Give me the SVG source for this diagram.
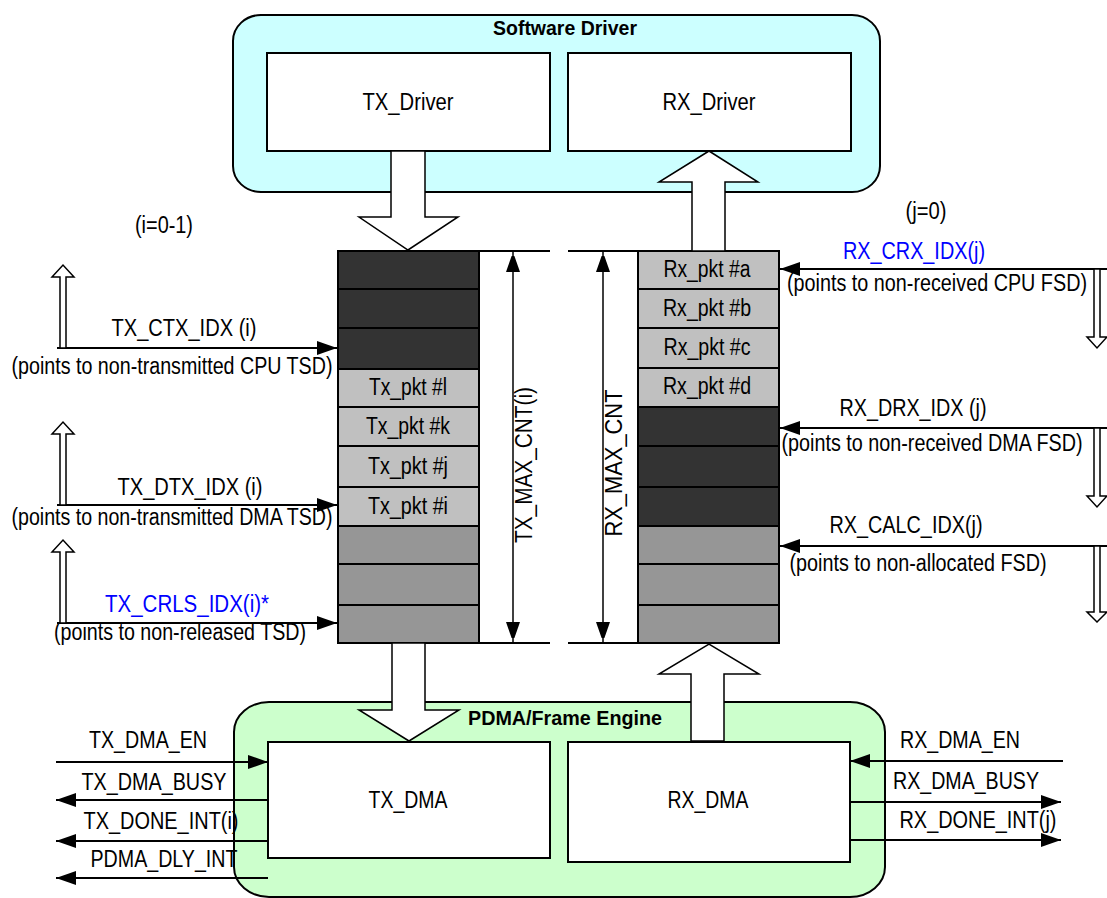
<svg xmlns="http://www.w3.org/2000/svg" width="1107" height="898" viewBox="0 0 1107 898">
<style>
text{font-family:"Liberation Sans",Arial,sans-serif;font-size:23px;fill:#000;text-anchor:middle}
.b{font-weight:bold;font-size:20px}
.blue{fill:#0000ff}
.box{fill:#fff;stroke:#000;stroke-width:2}
.dk{fill:#333333;stroke:#000;stroke-width:2}
.lt{fill:#c0c0c0;stroke:#000;stroke-width:2}
.md{fill:#969696;stroke:#000;stroke-width:2}
.fat{fill:#fff;stroke:#000;stroke-width:1.5}
.ln{stroke:#000;stroke-width:2;fill:none}
.ar{stroke:#000;stroke-width:2;fill:none;marker-end:url(#ah)}
.dim{stroke:#000;stroke-width:1.5;fill:none;marker-start:url(#dh);marker-end:url(#dh)}
</style>
<defs>
<marker id="ah" markerUnits="userSpaceOnUse" markerWidth="22" markerHeight="14" refX="20" refY="7" orient="auto"><path d="M0,0 L20,7 L0,14 z" fill="#000"/></marker>
<marker id="dh" markerUnits="userSpaceOnUse" markerWidth="16" markerHeight="22" refX="20" refY="7" orient="auto-start-reverse"><path d="M0,0 L20,7 L0,14 z" fill="#000"/></marker>
</defs>

<g id="software-driver">
<rect x="233" y="15" width="647" height="177" rx="28" ry="26" fill="#ccffff" stroke="#000" stroke-width="2"/>
<text class="b" x="565" y="35" textLength="144" lengthAdjust="spacingAndGlyphs">Software Driver</text>
</g>
<g id="tx-driver">
<rect class="box" x="267" y="53" width="283" height="98"/>
<text x="408" y="110" textLength="91" lengthAdjust="spacingAndGlyphs">TX_Driver</text>
</g>
<g id="rx-driver">
<rect class="box" x="568" y="53" width="283" height="98"/>
<text x="709" y="110" textLength="93" lengthAdjust="spacingAndGlyphs">RX_Driver</text>
</g>

<g id="pdma">
<rect x="234" y="702" width="651" height="195" rx="35" ry="30" fill="#ccffcc" stroke="#000" stroke-width="2"/>
<text class="b" x="565" y="725" textLength="194" lengthAdjust="spacingAndGlyphs">PDMA/Frame Engine</text>
</g>
<g id="tx-dma">
<rect class="box" x="268" y="742" width="282" height="116"/>
<text x="408" y="808" textLength="79" lengthAdjust="spacingAndGlyphs">TX_DMA</text>
</g>
<g id="rx-dma">
<rect class="box" x="568" y="742" width="282" height="120"/>
<text x="708" y="808" textLength="81" lengthAdjust="spacingAndGlyphs">RX_DMA</text>
</g>

<g id="tx-ring">
<rect class="dk" x="338" y="251" width="141" height="38"/>
<rect class="dk" x="338" y="289" width="141" height="39"/>
<rect class="dk" x="338" y="328" width="141" height="41"/>
<rect class="lt" x="338" y="369" width="141" height="38"/>
<rect class="lt" x="338" y="407" width="141" height="39"/>
<rect class="lt" x="338" y="446" width="141" height="41"/>
<rect class="lt" x="338" y="487" width="141" height="39"/>
<rect class="md" x="338" y="526" width="141" height="38"/>
<rect class="md" x="338" y="564" width="141" height="41"/>
<rect class="md" x="338" y="605" width="141" height="38"/>
<text x="408" y="395" textLength="78" lengthAdjust="spacingAndGlyphs">Tx_pkt #l</text>
<text x="408" y="434" textLength="84" lengthAdjust="spacingAndGlyphs">Tx_pkt #k</text>
<text x="408" y="474" textLength="80" lengthAdjust="spacingAndGlyphs">Tx_pkt #j</text>
<text x="408" y="514" textLength="80" lengthAdjust="spacingAndGlyphs">Tx_pkt #i</text>
</g>

<g id="rx-ring">
<rect class="lt" x="638" y="251" width="141" height="38"/>
<rect class="lt" x="638" y="289" width="141" height="39"/>
<rect class="lt" x="638" y="328" width="141" height="40"/>
<rect class="lt" x="638" y="368" width="141" height="39"/>
<rect class="dk" x="638" y="407" width="141" height="39"/>
<rect class="dk" x="638" y="446" width="141" height="41"/>
<rect class="dk" x="638" y="487" width="141" height="39"/>
<rect class="md" x="638" y="526" width="141" height="38"/>
<rect class="md" x="638" y="564" width="141" height="41"/>
<rect class="md" x="638" y="605" width="141" height="38"/>
<text x="707" y="277" textLength="87" lengthAdjust="spacingAndGlyphs">Rx_pkt #a</text>
<text x="707" y="316" textLength="88" lengthAdjust="spacingAndGlyphs">Rx_pkt #b</text>
<text x="707" y="355" textLength="87" lengthAdjust="spacingAndGlyphs">Rx_pkt #c</text>
<text x="707" y="394" textLength="88" lengthAdjust="spacingAndGlyphs">Rx_pkt #d</text>
</g>

<g id="labels">
<text x="164" y="233" textLength="58" lengthAdjust="spacingAndGlyphs">(i=0-1)</text>
<text x="926" y="219" textLength="41" lengthAdjust="spacingAndGlyphs">(j=0)</text>
<text x="532" y="465" transform="rotate(-90 532 465)" textLength="156" lengthAdjust="spacingAndGlyphs">TX_MAX_CNT(i)</text>
<text x="622" y="463" transform="rotate(-90 622 463)" textLength="147" lengthAdjust="spacingAndGlyphs">RX_MAX_CNT</text>
<text x="184" y="336" textLength="145" lengthAdjust="spacingAndGlyphs">TX_CTX_IDX (i)</text>
<text x="172" y="374" textLength="321" lengthAdjust="spacingAndGlyphs">(points to non-transmitted CPU TSD)</text>
<text x="190" y="495" textLength="145" lengthAdjust="spacingAndGlyphs">TX_DTX_IDX (i)</text>
<text x="172" y="525" textLength="321" lengthAdjust="spacingAndGlyphs">(points to non-transmitted DMA TSD)</text>
<text class="blue" x="187" y="612" textLength="164" lengthAdjust="spacingAndGlyphs">TX_CRLS_IDX(i)*</text>
<text x="180" y="640" textLength="252" lengthAdjust="spacingAndGlyphs">(points to non-released TSD)</text>
<text class="blue" x="914" y="259" textLength="142" lengthAdjust="spacingAndGlyphs">RX_CRX_IDX(j)</text>
<text x="937" y="291" textLength="300" lengthAdjust="spacingAndGlyphs">(points to non-received CPU FSD)</text>
<text x="913" y="416" textLength="147" lengthAdjust="spacingAndGlyphs">RX_DRX_IDX (j)</text>
<text x="932" y="451" textLength="301" lengthAdjust="spacingAndGlyphs">(points to non-received DMA FSD)</text>
<text x="906" y="533" textLength="153" lengthAdjust="spacingAndGlyphs">RX_CALC_IDX(j)</text>
<text x="918" y="571" textLength="257" lengthAdjust="spacingAndGlyphs">(points to non-allocated FSD)</text>
<text x="148" y="748" textLength="118" lengthAdjust="spacingAndGlyphs">TX_DMA_EN</text>
<text x="154" y="790" textLength="145" lengthAdjust="spacingAndGlyphs">TX_DMA_BUSY</text>
<text x="161" y="829" textLength="155" lengthAdjust="spacingAndGlyphs">TX_DONE_INT(i)</text>
<text x="164" y="867" textLength="147" lengthAdjust="spacingAndGlyphs">PDMA_DLY_INT</text>
<text x="960" y="748" textLength="120" lengthAdjust="spacingAndGlyphs">RX_DMA_EN</text>
<text x="966" y="789" textLength="146" lengthAdjust="spacingAndGlyphs">RX_DMA_BUSY</text>
<text x="978" y="828" textLength="157" lengthAdjust="spacingAndGlyphs">RX_DONE_INT(j)</text>
</g>

<g id="connectors">
<polygon class="fat" points="391,151 425,151 425,217 458,217 408,250 359,217 391,217"/>
<polygon class="fat" points="692,251 725,251 725,182 758,182 709,151 659,182 692,182"/>
<polygon class="fat" points="392,643 425,643 425,710 459,710 409,741 359,710 392,710"/>
<polygon class="fat" points="691,741 724,741 724,674 759,674 709,644 659,674 691,674"/>
<polyline class="ln" points="479,251 550,251"/>
<polyline class="ln" points="479,643 550,643"/>
<polyline class="ln" points="568,251 638,251"/>
<polyline class="ln" points="568,643 638,643"/>
<line class="dim" x1="513" y1="252" x2="513" y2="642"/>
<line class="dim" x1="603" y1="252" x2="603" y2="642"/>
<line class="ar" x1="57" y1="348" x2="337" y2="348"/>
<line class="ar" x1="57" y1="505" x2="337" y2="505"/>
<line class="ar" x1="57" y1="623" x2="337" y2="623"/>
<polygon class="fat" points="60,348 66,348 66,277 74,277 63,265 52,277 60,277"/>
<polygon class="fat" points="60,505 66,505 66,434 74,434 63,422 52,434 60,434"/>
<polygon class="fat" points="60,623 66,623 66,552 74,552 63,540 52,552 60,552"/>
<line class="ar" x1="1107" y1="269" x2="780" y2="269"/>
<line class="ar" x1="1107" y1="428" x2="780" y2="428"/>
<line class="ar" x1="1107" y1="546" x2="780" y2="546"/>
<polygon class="fat" points="1094,269 1100,269 1100,337 1107,337 1097,348 1087,337 1094,337"/>
<polygon class="fat" points="1094,428 1100,428 1100,496 1107,496 1097,507 1087,496 1094,496"/>
<polygon class="fat" points="1094,546 1100,546 1100,612 1107,612 1097,622 1087,612 1094,612"/>
<line class="ar" x1="56" y1="762" x2="268" y2="762"/>
<line class="ar" x1="268" y1="800" x2="56" y2="800"/>
<line class="ar" x1="268" y1="841" x2="56" y2="841"/>
<line class="ar" x1="268" y1="878" x2="56" y2="878"/>
<line class="ar" x1="1063" y1="761" x2="850" y2="761"/>
<line class="ar" x1="850" y1="802" x2="1061" y2="802"/>
<line class="ar" x1="850" y1="840" x2="1061" y2="840"/>
</g>
</svg>
